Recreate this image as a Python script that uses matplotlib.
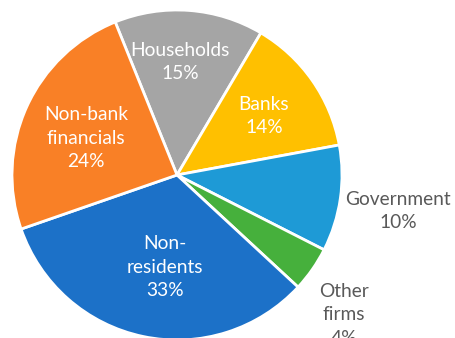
import matplotlib
matplotlib.use("Agg")
import matplotlib.pyplot as plt

# shares (labels show the rounded values)
sectors = ["Households", "Banks", "Government", "Other\nfirms", "Non-\nresidents", "Non-bank\nfinancials"]
shares = [14.6, 13.6, 10.4, 4.4, 32.8, 24.2]
colors = ["#A5A5A5", "#FFC000", "#1E9AD6", "#46B03C", "#1C71C8", "#F98026"]

# label placement (data units, pie radius = 1) and colours
label_pos = [(0.018, 0.685), (0.527, 0.358), (1.339, -0.218), (1.012, -0.848),
             (-0.073, -0.558), (-0.552, 0.224)]
label_col = ["white", "white", "#595959", "#595959", "white", "white"]

plt.rcParams['font.family'] = ['Lato', 'DejaVu Sans']

fig = plt.figure(figsize=(4.55, 3.38), dpi=100)
ax = fig.add_axes([0, 0, 1, 1])

ax.pie(shares, colors=colors, startangle=112, counterclock=False,
       wedgeprops=dict(edgecolor="white", linewidth=2))

for name, val, (x, y), c in zip(sectors, shares, label_pos, label_col):
    ax.text(x, y, f"{name}\n{round(val)}%", ha="center", va="center",
            color=c, fontsize=13.8, linespacing=1.45)

ax.set_xlim(-177 / 165, (455 - 177) / 165)
ax.set_ylim(-(338 - 175) / 165, 175 / 165)
ax.axis("off")

fig.savefig("out.png", dpi=100)
